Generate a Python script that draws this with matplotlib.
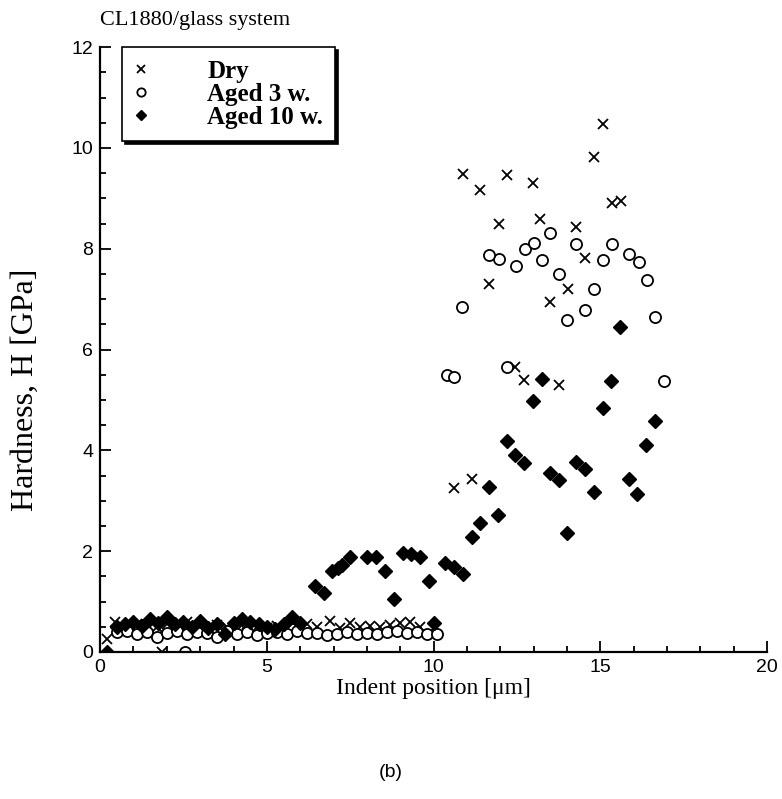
import matplotlib.pyplot as plt
from matplotlib.ticker import MultipleLocator

# Dry samples (x markers)
dry_x = [0.2, 0.45, 1.85,
         0.8, 1.1, 1.4, 1.7, 2.0, 2.3, 2.6, 2.9, 3.2, 3.5, 3.8, 4.1, 4.4, 4.7,
         5.0, 5.3, 5.6, 5.9, 6.2, 6.5, 6.9, 7.2, 7.5, 7.8, 8.1, 8.4, 8.7, 9.0,
         9.3, 9.6, 10.0,
         10.62, 11.15, 12.45, 12.7, 13.75, 11.65, 14.02, 13.5, 14.55, 11.95,
         13.2, 14.28, 15.35, 15.62, 11.4, 12.98, 10.88, 12.2, 14.8, 15.08]
dry_y = [0.26, 0.6, 0.0,
         0.52, 0.55, 0.48, 0.5, 0.56, 0.45, 0.6, 0.5, 0.47, 0.53, 0.5, 0.44,
         0.55, 0.5, 0.48, 0.52, 0.45, 0.5, 0.56, 0.5, 0.62, 0.48, 0.57, 0.5,
         0.52, 0.5, 0.53, 0.58, 0.6, 0.5, 0.48,
         3.25, 3.43, 5.66, 5.4, 5.3, 7.3, 7.2, 6.94, 7.81, 8.49,
         8.59, 8.44, 8.9, 8.94, 9.17, 9.31, 9.48, 9.46, 9.83, 10.48]

# Aged 3 weeks (open circles)
aged3_x = [2.55,
           0.5, 0.8, 1.1, 1.4, 1.7, 2.0, 2.3, 2.6, 2.9, 3.2, 3.5, 3.8, 4.1, 4.4,
           4.7, 5.0, 5.3, 5.6, 5.9, 6.2, 6.5, 6.8, 7.1, 7.4, 7.7, 8.0, 8.3, 8.6,
           8.9, 9.2, 9.5, 9.8, 10.1,
           10.4, 10.6, 12.2, 16.9, 10.85, 14.0, 14.55, 16.65, 14.8, 16.4, 13.75,
           12.48, 11.95, 11.65, 13.25, 15.08, 12.75, 13.0, 14.28, 15.35, 15.85,
           16.15, 13.5]
aged3_y = [0.0,
           0.4, 0.42, 0.36, 0.4, 0.3, 0.38, 0.42, 0.35, 0.4, 0.38, 0.3, 0.42,
           0.36, 0.4, 0.33, 0.38, 0.4, 0.35, 0.42, 0.37, 0.38, 0.33, 0.36, 0.4,
           0.35, 0.38, 0.36, 0.4, 0.42, 0.38, 0.4, 0.36, 0.35,
           5.5, 5.45, 5.65, 5.38, 6.85, 6.59, 6.79, 6.65, 7.21, 7.39, 7.5,
           7.66, 7.79, 7.88, 7.78, 7.78, 8.0, 8.12, 8.1, 8.1, 7.9,
           7.73, 8.32]

# Aged 10 weeks (filled markers)
aged10_x = [0.2,
            0.5, 0.75, 1.0, 1.25, 1.5, 1.75, 2.0, 2.25, 2.5, 2.75, 3.0, 3.25,
            3.5, 3.75, 4.0, 4.25, 4.5, 4.75, 5.0, 5.25, 5.5, 5.75, 6.0, 10.0,
            6.43, 6.7, 6.95, 7.12, 7.25, 7.48, 8.0, 8.27, 8.55, 8.82, 9.08,
            9.33, 9.58, 9.85, 10.35, 10.6, 10.88, 11.15, 11.4, 11.92, 11.65,
            14.0, 12.2, 12.45, 12.7, 13.5, 13.75, 14.28, 14.55, 14.82, 15.85,
            16.1, 16.37, 16.65, 15.07, 12.98, 13.25, 15.33, 15.58]
aged10_y = [0.0,
            0.5, 0.55, 0.6, 0.52, 0.65, 0.58, 0.7, 0.55, 0.6, 0.5, 0.62, 0.48,
            0.55, 0.35, 0.58, 0.65, 0.6, 0.55, 0.5, 0.45, 0.55, 0.7, 0.58, 0.58,
            1.31, 1.18, 1.61, 1.66, 1.73, 1.89, 1.89, 1.89, 1.61, 1.05, 1.97,
            1.94, 1.88, 1.41, 1.77, 1.68, 1.54, 2.28, 2.55, 2.72, 3.27,
            2.37, 4.19, 3.91, 3.74, 3.56, 3.41, 3.76, 3.64, 3.18, 3.43,
            3.13, 4.11, 4.59, 4.84, 4.97, 5.41, 5.38, 6.44]

serif = 'Liberation Serif'
sans = 'Liberation Sans'

fig = plt.figure(figsize=(7.82, 7.99), dpi=100)
ax = fig.add_axes([0.128, 0.184, 0.853, 0.757])

ax.plot(dry_x, dry_y, 'x', color='black', ms=7, mew=1.3, label='Dry')
ax.plot(aged3_x, aged3_y, 'o', mfc='white', mec='black', ms=8, mew=1.3,
        label='Aged 3 w.')
ax.plot(aged10_x, aged10_y, 'D', color='black', ms=7, label='Aged 10 w.')

ax.set_xlim(0, 20)
ax.set_ylim(0, 12)
ax.xaxis.set_major_locator(MultipleLocator(5))
ax.xaxis.set_minor_locator(MultipleLocator(1))
ax.yaxis.set_major_locator(MultipleLocator(2))
ax.yaxis.set_minor_locator(MultipleLocator(0.5))
ax.tick_params(which='both', direction='in', width=1.3, labelsize=14)
ax.tick_params(which='major', length=8, pad=5)
ax.tick_params(which='minor', length=4)
for lbl in ax.get_xticklabels() + ax.get_yticklabels():
    lbl.set_fontfamily(sans)

for side in ['top', 'right']:
    ax.spines[side].set_visible(False)
for side in ['left', 'bottom']:
    ax.spines[side].set_linewidth(1.6)

ax.set_xlabel('Indent position [\u03bcm]', fontsize=17, family=serif)
ax.set_ylabel('Hardness, H [GPa]', fontsize=23, family=serif)
ax.xaxis.set_label_coords(0.5, -0.043)
ax.yaxis.set_label_coords(-0.09, 0.433)
ax.set_title('CL1880/glass system', fontsize=16, family=serif, loc='left',
             x=0.0, pad=16)

leg = ax.legend(loc='upper left', bbox_to_anchor=(0.033, 1.0),
                borderaxespad=0, fancybox=False, edgecolor='black',
                framealpha=1, shadow={'color': 'black', 'alpha': 1},
                prop={'family': serif, 'weight': 'bold', 'size': 18},
                handletextpad=2.4, borderpad=0.5, labelspacing=0.0,
                markerscale=0.75, handlelength=0.5)
leg.get_frame().set_linewidth(1.2)

fig.text(0.5, 0.028, '(b)', ha='center', fontsize=14, family=sans)

fig.savefig('out.png', dpi=100)
